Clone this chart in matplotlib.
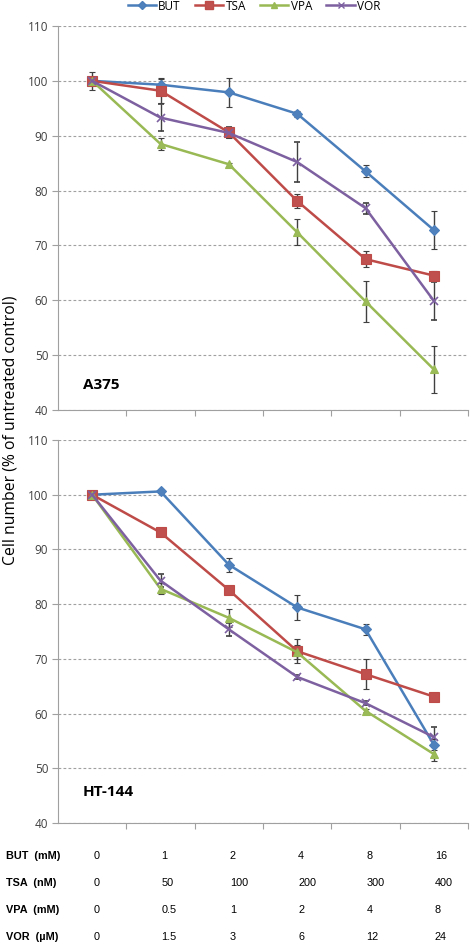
import matplotlib
matplotlib.use("Agg")
import matplotlib.pyplot as plt
from matplotlib.lines import Line2D
import numpy as np

plt.rcParams['font.family'] = ['Open Sans', 'DejaVu Sans']

series = ["BUT", "TSA", "VPA", "VOR"]
doses = ["0", "1", "2", "4", "8", "16"]

# A375
a375_but = [100, 99.3, 97.9, 94.0, 83.5, 72.8]
a375_but_err = [0.3, 1.0, 2.6, 0.5, 1.1, 3.5]
a375_tsa = [100, 98.2, 90.6, 78.1, 67.5, 64.5]
a375_tsa_err = [0.5, 2.3, 1.0, 1.3, 1.4, 0.8]
a375_vpa = [100, 88.5, 84.8, 72.4, 59.8, 47.4]
a375_vpa_err = [1.6, 1.1, 0.3, 2.4, 3.8, 4.3]
a375_vor = [100, 93.3, 90.5, 85.2, 76.8, 59.9]
a375_vor_err = [0.5, 2.5, 1.0, 3.7, 1.0, 3.5]

# HT-144
ht144_but = [100, 100.6, 87.2, 79.4, 75.4, 54.3]
ht144_but_err = [0.3, 0.3, 1.3, 2.3, 1.0, 1.0]
ht144_tsa = [100, 93.1, 82.6, 71.4, 67.2, 63.1]
ht144_tsa_err = [0.6, 0.3, 0.5, 2.2, 2.7, 0.5]
ht144_vpa = [100, 82.8, 77.5, 71.2, 60.5, 52.6]
ht144_vpa_err = [0.5, 1.0, 1.6, 1.3, 0.3, 1.2]
ht144_vor = [100, 84.3, 75.4, 66.7, 61.9, 55.7]
ht144_vor_err = [0.5, 1.2, 1.2, 0.4, 0.4, 1.8]

table_labels = ["BUT  (mM)", "TSA  (nM)", "VPA  (mM)", "VOR  (\u00b5M)"]
but_doses = ["0", "1", "2", "4", "8", "16"]
tsa_doses = ["0", "50", "100", "200", "300", "400"]
vpa_doses = ["0", "0.5", "1", "2", "4", "8"]
vor_doses = ["0", "1.5", "3", "6", "12", "24"]

colors = {"BUT": "#4A7EBB", "TSA": "#BE4B48", "VPA": "#98B954", "VOR": "#7D60A0"}
face = {"BUT": "#4F81BD", "TSA": "#C0504D", "VPA": "#9BBB59", "VOR": "#8064A2"}
markers = {"BUT": "D", "TSA": "s", "VPA": "^", "VOR": "x"}
msize = {"BUT": 5, "TSA": 7, "VPA": 6, "VOR": 6}

W, H = 472, 943
fig = plt.figure(figsize=(W / 100, H / 100), dpi=100)

def px_axes(l, t, r, b):
    return fig.add_axes([l / W, 1 - b / H, (r - l) / W, (b - t) / H])

ax1 = px_axes(58, 26, 468, 410)
ax2 = px_axes(58, 440, 468, 823)

x = np.arange(len(doses))

def draw(ax, data, label, label_y):
    for name, (vals, errs) in zip(series, data):
        ax.errorbar(x, vals, yerr=errs, color=colors[name], lw=1.8,
                    marker=markers[name], ms=msize[name], mfc=face[name],
                    mec=colors[name], mew=1.2 if name == "VOR" else 0.8,
                    ecolor="#404040", elinewidth=1.0, capsize=2.5, capthick=1.0,
                    zorder=3)
    ax.set_xlim(-0.5, 5.5)
    ax.set_ylim(40, 110)
    ax.set_yticks(np.arange(40, 111, 10))
    ax.yaxis.grid(True, color="#A0A0A0", ls=(0, (2.5, 2)), lw=0.8)
    ax.set_axisbelow(True)
    for s in ["top", "right"]:
        ax.spines[s].set_visible(False)
    ax.spines["left"].set_color("#A0A0A0")
    ax.spines["bottom"].set_color("#A0A0A0")
    ax.set_xticks(np.arange(0.5, 5.6, 1))
    ax.set_xticklabels([])
    ax.tick_params(axis="x", length=4, color="#A0A0A0", direction="out")
    ax.tick_params(axis="y", length=4, color="#A0A0A0", labelsize=8.5,
                   labelcolor="#404040", pad=3)
    ax.text(-0.135, label_y, label, transform=ax.transData,
            fontsize=11, fontweight="bold", va="center", ha="left")

draw(ax1, [(a375_but, a375_but_err), (a375_tsa, a375_tsa_err),
           (a375_vpa, a375_vpa_err), (a375_vor, a375_vor_err)], "A375", 44.6)
draw(ax2, [(ht144_but, ht144_but_err), (ht144_tsa, ht144_tsa_err),
           (ht144_vpa, ht144_vpa_err), (ht144_vor, ht144_vor_err)], "HT-144", 45.7)

fig.text(11 / W, 1 - 430 / H, "Cell number (% of untreated control)", rotation=90,
         ha="center", va="center", fontsize=11.3)

handles = [Line2D([], [], color=colors[n], lw=1.8, marker=markers[n], ms=msize[n] - 1,
                  mfc=face[n], mec=colors[n]) for n in series]
fig.legend(handles, series, loc="center", bbox_to_anchor=(254 / W, 1 - 6 / H), ncol=4,
           frameon=False, fontsize=8.5, handlelength=2.4, handletextpad=0.2,
           columnspacing=1.2, borderaxespad=0)

rows_y = [856, 883, 910, 937]
for lab, vals, yy in zip(table_labels, [but_doses, tsa_doses, vpa_doses, vor_doses], rows_y):
    fig.text(6 / W, 1 - yy / H, lab, fontsize=7.8, fontweight="bold",
             family=["Liberation Sans", "DejaVu Sans"], va="center", ha="left")
    for i, v in enumerate(vals):
        xd = ax2.transData.transform((i, 50))[0]
        fig.text((xd + 1) / W, 1 - yy / H, v, fontsize=7.8,
                 family=["Liberation Sans", "DejaVu Sans"], va="center", ha="left")

fig.savefig("out.png", dpi=100)
